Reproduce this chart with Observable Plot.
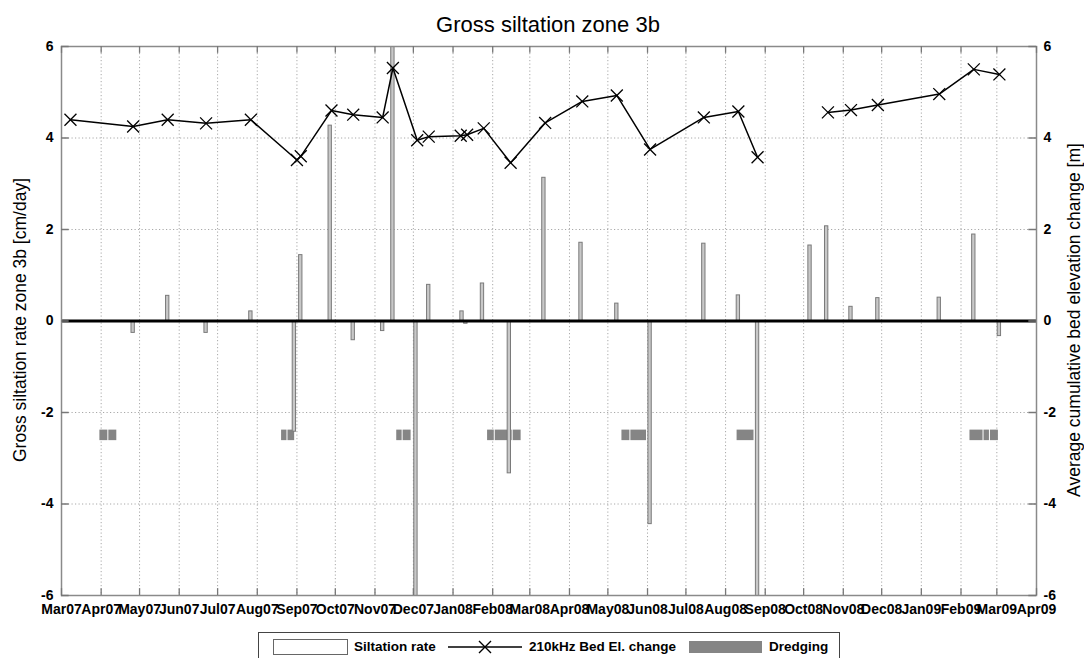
<!DOCTYPE html>
<html><head><meta charset="utf-8">
<script src="https://cdn.jsdelivr.net/npm/d3@7"></script>
<script src="https://cdn.jsdelivr.net/npm/@observablehq/plot@0.6"></script>
<style>
body{margin:0;background:#fff;font-family:"Liberation Sans",Arial,Helvetica,sans-serif;color:#000;}
#wrap{position:relative;width:1084px;height:658px;overflow:hidden;}
#chart{position:absolute;left:0;top:0;}
.title{position:absolute;left:0;width:1096px;text-align:center;top:14px;font-size:22px;line-height:1;}
.ylab{position:absolute;white-space:nowrap;font-size:17.5px;line-height:1;transform:translate(-50%,-50%) rotate(-90deg);}
.legend{position:absolute;left:258px;top:632px;width:582px;height:34px;border:1px solid #444;box-sizing:border-box;background:#fff;}
.legend .t{position:absolute;top:7px;font-size:13.5px;font-weight:bold;line-height:1;white-space:nowrap;}
</style></head>
<body><div id="wrap">
<div id="chart"></div>
<div class="title">Gross siltation zone 3b</div>
<div class="ylab" style="left:21px;top:320px;">Gross siltation rate zone 3b [cm/day]</div>
<div class="ylab" style="left:1075px;top:320px;">Average cumulative bed elevation change [m]</div>
<div class="legend">
  <svg width="582" height="34" style="position:absolute;left:0;top:0;">
    <rect x="14.5" y="6.5" width="74" height="15" fill="#fff" stroke="#666" stroke-width="1"/>
    <line x1="189" y1="14" x2="263" y2="14" stroke="#000" stroke-width="1.5"/>
    <path d="M220,8L232,20M220,20L232,8" stroke="#000" stroke-width="1.4"/>
    <rect x="430" y="8" width="73" height="12" fill="#858585"/>
  </svg>
  <div class="t" style="left:95px;">Siltation rate</div>
  <div class="t" style="left:270px;">210kHz Bed El. change</div>
  <div class="t" style="left:510px;">Dredging</div>
</div>
</div>
<script>
// ---- Data ----
const bedDates = ["2007-03-08","2007-04-26","2007-05-23","2007-06-22","2007-07-27","2007-09-01","2007-09-04","2007-09-28","2007-10-15","2007-11-07","2007-11-15","2007-12-04","2007-12-13","2008-01-07","2008-01-12","2008-01-25","2008-02-15","2008-03-13","2008-04-11","2008-05-08","2008-06-03","2008-07-15","2008-08-11","2008-08-26","2008-10-20","2008-11-07","2008-11-28","2009-01-15","2009-02-11","2009-03-03"];
const bedValues = [4.40,4.25,4.40,4.32,4.40,3.52,3.60,4.60,4.51,4.45,5.53,3.95,4.03,4.05,4.07,4.21,3.46,4.33,4.80,4.93,3.75,4.45,4.58,3.58,4.56,4.61,4.72,4.96,5.50,5.39];

const rateDates = ["2007-04-26","2007-05-23","2007-06-22","2007-07-27","2007-08-30","2007-09-04","2007-09-27","2007-10-15","2007-11-07","2007-11-15","2007-12-03","2007-12-13","2008-01-08","2008-01-11","2008-01-24","2008-02-14","2008-03-12","2008-04-10","2008-05-08","2008-06-03","2008-07-15","2008-08-11","2008-08-26","2008-10-06","2008-10-19","2008-11-07","2008-11-28","2009-01-15","2009-02-11","2009-03-03"];
const rateValues = [-0.26,0.55,-0.26,0.21,-2.42,1.44,4.27,-0.42,-0.22,6.3,-6.3,0.79,0.21,-0.06,0.82,-3.33,3.13,1.71,0.38,-4.44,1.69,0.56,-6.3,1.65,2.07,0.31,0.50,0.51,1.89,-0.33];

const dredgeStarts = ["2007-03-31","2007-04-07","2007-08-20","2007-08-25","2007-11-18","2007-11-23","2008-01-28","2008-02-03","2008-02-17","2008-05-12","2008-05-19","2008-08-10","2009-02-08","2009-02-19","2009-02-24"];
const dredgeEnds   = ["2007-04-07","2007-04-14","2007-08-25","2007-08-31","2007-11-23","2007-11-30","2008-02-03","2008-02-17","2008-02-24","2008-05-19","2008-06-01","2008-08-24","2009-02-19","2009-02-24","2009-03-03"];
const dredgeLevel = -2.5;

const xStart = "2007-03-01", xEnd = "2009-04-01";
const yTicks = [-6,-4,-2,0,2,4,6];

// ---- Build ----
const P = s => new Date(s + "T00:00:00Z");
const DAY = 864e5;
const bed = bedDates.map((d,i)=>({date:P(d), v:bedValues[i]}));
let seg = 0;
bed.forEach((p,i)=>{ if(i>0 && (p.date - bed[i-1].date) > 52*DAY) seg++; p.seg = seg; });
const rate = rateDates.map((d,i)=>({date:P(d), v:rateValues[i]}));
const dredge = dredgeStarts.map((s,i)=>({a:P(s), b:P(dredgeEnds[i])}));
const x0 = P(xStart), x1 = P(xEnd);
const months = d3.utcMonths(x0, new Date(+x1 + DAY));
const halfW = 1.3*DAY;

const chart = Plot.plot({
  width: 1084, height: 620,
  marginLeft: 61, marginRight: 48, marginTop: 46, marginBottom: 25,
  style: {fontFamily: '"Liberation Sans", Arial, sans-serif', fontSize: "14px", fontWeight: "bold", color: "#000", background: "#fff"},
  x: {type: "utc", domain: [x0, x1]},
  y: {domain: [-6, 6]},
  marks: [
    Plot.ruleX(months, {stroke: "#a8a8a8", strokeDasharray: "1.2,2.3", strokeWidth: 1}),
    Plot.ruleY(yTicks.filter(t => t !== 0 && Math.abs(t) !== 6), {stroke: "#a8a8a8", strokeDasharray: "1.2,2.3", strokeWidth: 1}),
    Plot.rect(dredge, {x1: "a", x2: "b", y1: dredgeLevel - 0.115, y2: dredgeLevel + 0.115, fill: "#858585", insetRight: 1}),
    Plot.rect(rate, {x1: d => new Date(+d.date - halfW), x2: d => new Date(+d.date + halfW), y1: 0, y2: "v", fill: "#c8c8c8", stroke: "#7a7a7a", strokeWidth: 1, clip: true}),
    Plot.ruleY([0], {stroke: "#000", strokeWidth: 3.2}),
    Plot.line(bed, {x: "date", y: "v", z: "seg", stroke: "#000", strokeWidth: 1.5}),
    Plot.dot(bed, {x: "date", y: "v", symbol: "times", r: 5.5, stroke: "#000", strokeWidth: 1.3}),
    Plot.frame({stroke: "#8a8a8a", strokeWidth: 1.5}),
    Plot.ruleX(months, {y1: -6, y2: -5.85, stroke: "#777", strokeWidth: 1.3}),
    Plot.ruleX(months, {y1: 6, y2: 5.85, stroke: "#777", strokeWidth: 1.3}),
    Plot.ruleY(yTicks, {x1: x0, x2: new Date(+x0 + 6*DAY), stroke: "#777", strokeWidth: 1.5}),
    Plot.ruleY(yTicks, {x1: new Date(+x1 - 6*DAY), x2: x1, stroke: "#777", strokeWidth: 1.5}),
    Plot.axisX({ticks: months, tickSize: 0, tickPadding: 9, tickFormat: d3.utcFormat("%b%y"), label: null}),
    Plot.axisY({ticks: yTicks, anchor: "left", tickSize: 0, tickPadding: 8, tickFormat: d => String(d), label: null}),
    Plot.axisY({ticks: yTicks, anchor: "right", tickSize: 0, tickPadding: 7, tickFormat: d => String(d), label: null})
  ]
});
document.getElementById("chart").appendChild(chart);
</script>
</body></html>
